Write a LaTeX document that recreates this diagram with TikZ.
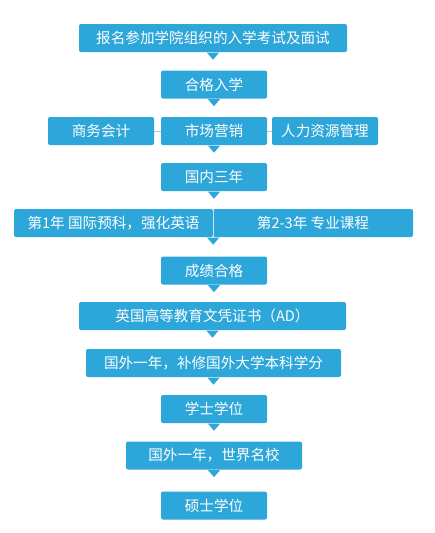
\documentclass[tikz,border=0pt]{standalone}
\usepackage{fontspec}
\setmainfont{Noto Sans CJK SC}
\usepackage{xcolor}
\usepackage{tikz}
\usetikzlibrary{calc}
\definecolor{boxblue}{RGB}{45,166,218}
\definecolor{linkgrey}{RGB}{176,200,214}
\tikzset{
    blue box/.style={shape=rectangle,fill=boxblue,rounded corners=2pt,text=white,
        minimum height=28pt,inner sep=0pt,font=\fontsize{14.6}{16}\selectfont},
    link/.style={draw=linkgrey,line width=1pt},
    split/.style={draw=white!70!boxblue,line width=0.6pt}
}
\newcommand{\pointer}[1]{\fill[boxblue] ($(#1)+(-6,0.5)$) -- ($(#1)+(0,7.5)$) -- ($(#1)+(6,0.5)$) -- cycle;}

\begin{document}
\begin{tikzpicture}[x=1pt,y=-1pt]
    \useasboundingbox (0,0) rectangle (435,533);
    \node(apply)[blue box,minimum width=268pt] at (213,38) {报名参加学院组织的入学考试及面试};
    \node(admit)[blue box,minimum width=106pt] at (214,84.5) {合格入学};
    \node(acct)[blue box,minimum width=106pt] at (101,131) {商务会计};
    \node(mkt)[blue box,minimum width=106pt] at (214,131) {市场营销};
    \node(hr)[blue box,minimum width=106pt] at (325,131) {人力资源管理};
    \node(home)[blue box,minimum width=106pt] at (214,177) {国内三年};
    \node(yr1)[blue box,minimum width=199pt] at (113.5,223) {第1年 国际预科，强化英语};
    \node(yr23)[blue box,minimum width=200pt] at (313,223) {第2-3年 专业课程};
    \node(grade)[blue box,minimum width=106pt] at (214,270.5) {成绩合格};
    \node(ad)[blue box,minimum width=267pt] at (212.5,316) {英国高等教育文凭证书（AD）};
    \node(abroad1)[blue box,minimum width=255pt] at (213.5,363) {国外一年，补修国外大学本科学分};
    \node(bach)[blue box,minimum width=106pt] at (214,409) {学士学位};
    \node(abroad2)[blue box,minimum width=176pt] at (214,455.5) {国外一年，世界名校};
    \node(mast)[blue box,minimum width=106pt] at (214,505.5) {硕士学位};
    \draw[link] (acct) -- (mkt);
    \draw[link] (mkt) -- (hr);
    \draw[split] ($(yr1.north east)+(0,1)$) -- ($(yr1.south east)+(0,-1)$);
    \pointer{apply.south}
    \pointer{admit.south}
    \pointer{mkt.south}
    \pointer{home.south}
    \pointer{yr1.south east}
    \pointer{grade.south}
    \pointer{ad.south}
    \pointer{abroad1.south}
    \pointer{bach.south}
    \pointer{abroad2.south}
\end{tikzpicture}
\end{document}
